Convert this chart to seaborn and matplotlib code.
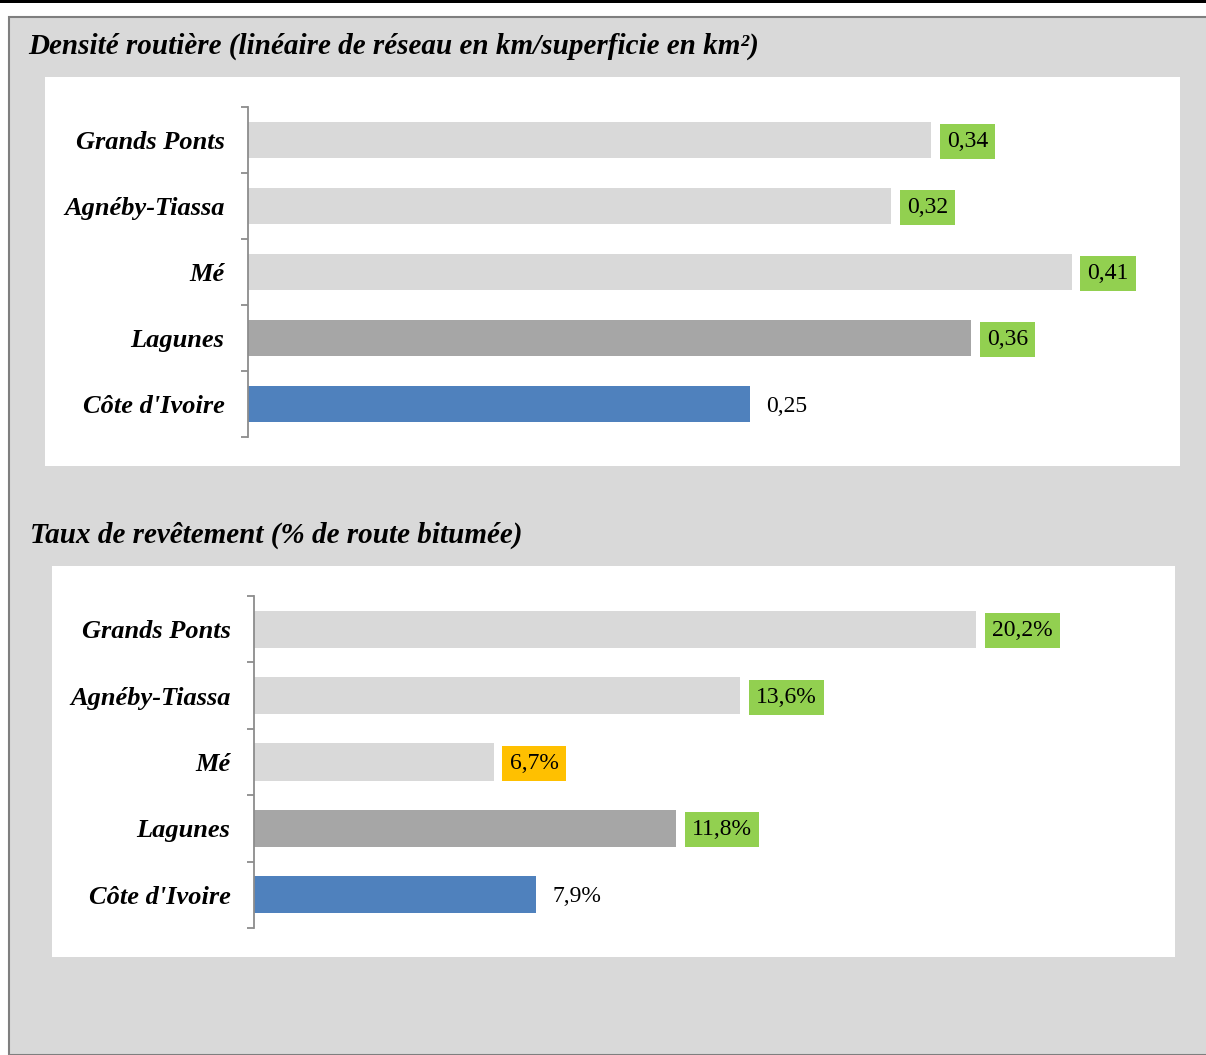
import matplotlib
matplotlib.use("Agg")
import matplotlib.pyplot as plt
import seaborn as sns
import pandas as pd
from matplotlib.patches import Rectangle

# ---------------- data ----------------
categories = ["Grands Ponts", "Agnéby-Tiassa", "Mé", "Lagunes", "Côte d'Ivoire"]
density_values = [0.34, 0.32, 0.41, 0.36, 0.25]
paving_values = [20.2, 13.6, 6.7, 11.8, 7.9]
bar_colors = ["#D9D9D9", "#D9D9D9", "#D9D9D9", "#A6A6A6", "#4F81BD"]
density_box = ["#92D050", "#92D050", "#92D050", "#92D050", None]
paving_box = ["#92D050", "#92D050", "#FFC000", "#92D050", None]
title_density = "Densité routière (linéaire de réseau en km/superficie en km²)"
title_paving = "Taux de revêtement (% de route bitumée)"

W, H = 1206, 1055
DPI = 100
SERIF = ["Liberation Serif", "DejaVu Serif"]

sns.set_style("white")
plt.rcParams["font.family"] = SERIF
plt.rcParams["text.color"] = "black"
plt.rcParams["ytick.color"] = "black"

fig = plt.figure(figsize=(W / DPI, H / DPI), dpi=DPI)
fig.patch.set_facecolor("white")


def fx(x):
    return x / W


def fy(y):
    return 1 - y / H


# top black rule
fig.add_artist(Rectangle((0, fy(3)), 1, 3 / H, transform=fig.transFigure,
                         facecolor="black", edgecolor="none", zorder=0))
# grey frame
fig.add_artist(Rectangle((fx(9), 0), 1 - fx(9) + 0.01, fy(16.5), transform=fig.transFigure,
                         facecolor="#D9D9D9", edgecolor="#7F7F7F", linewidth=1.5, zorder=0))

# white panels
fig.add_artist(Rectangle((fx(45), fy(466)), fx(1180 - 45), (466 - 77) / H,
                         transform=fig.transFigure, facecolor="white", edgecolor="none", zorder=0.5))
fig.add_artist(Rectangle((fx(52), fy(957)), fx(1175 - 52), (957 - 566) / H,
                         transform=fig.transFigure, facecolor="white", edgecolor="none", zorder=0.5))

fig.text(fx(28), fy(46), title_density, fontsize=21, fontweight="bold", fontstyle="italic",
         va="center", ha="left", family=SERIF, color="black")
fig.text(fx(30), fy(535), title_paving, fontsize=21, fontweight="bold", fontstyle="italic",
         va="center", ha="left", family=SERIF, color="black")


def make_panel(left, right, top, bottom, values, boxes, fmt, xmax):
    ax = fig.add_axes([fx(left), fy(bottom), fx(right - left), (bottom - top) / H])
    ax.set_zorder(2)
    ax.set_facecolor("none")
    df = pd.DataFrame({"cat": categories, "val": values})
    sns.barplot(data=df, x="val", y="cat", hue="cat", palette=bar_colors, orient="h",
                width=0.56, legend=False, ax=ax, edgecolor="none", saturation=1)
    ax.set_xlim(0, xmax)
    ax.set_ylim(4.5, -0.5)
    ax.set_xlabel("")
    ax.set_ylabel("")
    ax.set_xticks([])
    for s in ["top", "right", "bottom"]:
        ax.spines[s].set_visible(False)
    ax.spines["left"].set_color("#8C8C8C")
    ax.spines["left"].set_linewidth(1.3)
    ax.set_yticks(range(len(categories)))
    ax.set_yticklabels(categories, fontsize=19, fontweight="bold", fontstyle="italic", color="black")
    ax.tick_params(axis="y", which="major", length=0, pad=17, left=True)
    ax.set_yticks([i - 0.5 for i in range(len(categories) + 1)], minor=True)
    ax.tick_params(axis="y", which="minor", left=True, length=5, width=1.3,
                   color="#8C8C8C", direction="out")
    for i, (v, b) in enumerate(zip(values, boxes)):
        label = fmt(v)
        if b is None:
            ax.annotate(label, xy=(v, i), xytext=(16, -2), textcoords="offset pixels",
                        va="center", ha="left", fontsize=17, color="black")
        else:
            ax.annotate(label, xy=(v, i), xytext=(16, -1.5), textcoords="offset pixels",
                        va="center", ha="left", fontsize=17, color="black",
                        bbox=dict(boxstyle="square,pad=0.3", facecolor=b, edgecolor="none"))
    return ax


make_panel(248, 1180, 107, 437, density_values, density_box,
           lambda v: f"{v:.2f}".replace(".", ","), 0.464)
make_panel(254, 1175, 596, 928, paving_values, paving_box,
           lambda v: f"{v:.1f}%".replace(".", ","), 25.76)

fig.savefig("out.png", dpi=DPI, facecolor=fig.get_facecolor())
